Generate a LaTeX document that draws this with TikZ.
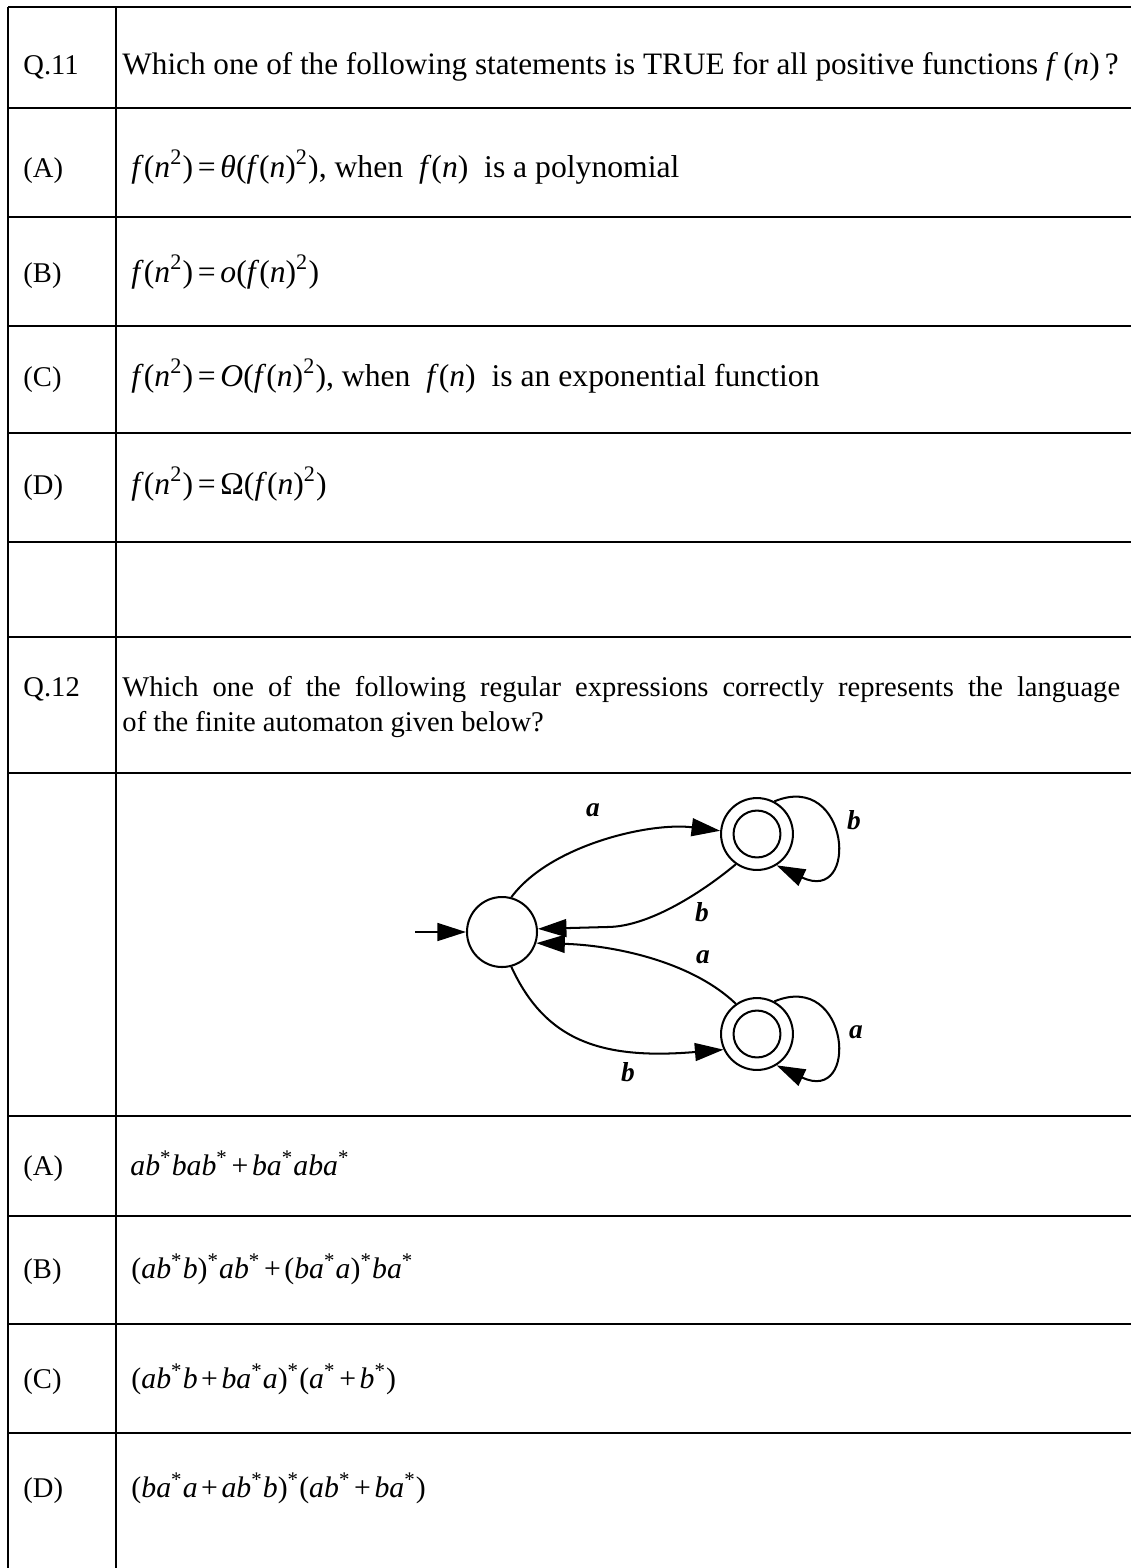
\documentclass[tikz,border=0pt]{standalone}
\usepackage{fontspec}
\setmainfont{Liberation Serif}
\usetikzlibrary{arrows.meta}

\newcommand{\vi}[1]{\textit{#1}}
\newcommand{\ks}{\textsuperscript{*}}
\newcommand{\sq}{\textsuperscript{2}}
\newcommand{\eqs}{\hspace{0.15em}=\hspace{0.15em}}
\newcommand{\pls}{\hspace{0.12em}+\hspace{0.12em}}

\begin{document}
\begin{tikzpicture}[x=0.42pt,y=-0.42pt]
\tikzstyle{every node}=[font=\fontsize{12}{14.4}\selectfont, inner sep=0pt]
\tikzstyle{heavy}=[line width=0.85pt]
\tikzstyle{light}=[line width=0.45pt]
\tikzstyle{lab}=[anchor=base west]
\tikzstyle{ask}=[lab, font=\fontsize{13.1}{15.7}\selectfont]
\tikzstyle{optA}=[lab, font=\fontsize{13.3}{16}\selectfont]
\tikzstyle{optB}=[lab, font=\fontsize{12.5}{15}\selectfont]
\tikzstyle{stt}=[draw, circle, line width=0.85pt, minimum size=29.4pt]
\tikzstyle{acc}=[stt, minimum size=30.2pt]
\tikzstyle{core}=[draw, circle, line width=0.85pt, minimum size=19.7pt]
\tikzstyle{edge}=[line width=0.85pt, -{Triangle[length=12pt,width=7.5pt]}]
\tikzstyle{sym}=[font=\fontsize{11.5}{13}\selectfont\bfseries\itshape]
	\useasboundingbox (0,0) rectangle (1131,1568);
	\fill[white] (0,0) rectangle (1131,1568);
	\draw[light] (8,7) -- (8,1568);
	\draw[light] (116,7) -- (116,1568);
	\draw[heavy] (8,1433) -- (8,1568);
	\draw[heavy] (116,1433) -- (116,1568);
	\foreach \y in {7,108,217,433,542,637,773,1116,1216,1324}
		\draw[heavy] (8,\y) -- (1131,\y);
	\foreach \y in {326,1433}
		\draw[light] (8,\y) -- (1131,\y);
	\node[lab] (q11) at (23,74) {Q.11};
	\node[ask] (q11txt) at (122,74) {Which one of the following statements is TRUE for all positive functions \vi{f}\,(\vi{n})\,?};
	\node[lab] (q11a) at (23,177) {(A)};
	\node[optA] (q11atxt) at (131,177) {\vi{f}(\vi{n}\sq)\eqs\vi{θ}(\vi{f}(\vi{n})\sq), when \ \vi{f}(\vi{n}) \ is a polynomial};
	\node[lab] (q11b) at (23,282) {(B)};
	\node[optA] (q11btxt) at (131,282) {\vi{f}(\vi{n}\sq)\eqs\vi{o}(\vi{f}(\vi{n})\sq)};
	\node[lab] (q11c) at (23,386) {(C)};
	\node[optA] (q11ctxt) at (131,386) {\vi{f}(\vi{n}\sq)\eqs\vi{O}(\vi{f}(\vi{n})\sq), when \ \vi{f}(\vi{n}) \ is an exponential function};
	\node[lab] (q11d) at (23,494) {(D)};
	\node[optA] (q11dtxt) at (131,494) {\vi{f}(\vi{n}\sq)\eqs Ω(\vi{f}(\vi{n})\sq)};
	\node[lab] (q12) at (23,696) {Q.12};
	\node[lab] (q12txt) at (122,696) {\makebox[419pt][s]{Which one of the following regular expressions correctly represents the language}};
	\node[lab] (q12txtb) at (122,731) {of the finite automaton given below?};
	\coordinate (init) at (415,932);
	\node[stt] (s) at (502,932) {};
	\node[acc] (u) at (757,834) {};
	\node[core] (ui) at (u) {};
	\node[acc] (l) at (757,1034) {};
	\node[core] (li) at (l) {};
	\draw[edge] (init) -- (s);
	\draw[edge] (s.75) .. controls (550,845) and (650,822) .. (u.175);
	\draw[edge] (u.235) .. controls (705,890) and (650,927) .. (607,927) -- (s.5);
	\draw[edge] (l.125) .. controls (690,960) and (610,945) .. (s.-18);
	\draw[edge] (s.-75) .. controls (545,1040) and (600,1060) .. (l.205);
	\draw[edge] (u.62) .. controls (850,770) and (860,905) .. (u.-58);
	\draw[edge] (l.62) .. controls (850,970) and (860,1105) .. (l.-58);
	\node[sym] (ua) at (593,810) {a};
	\node[sym] (ub) at (854,820) {b};
	\node[sym] (sb) at (702,912) {b};
	\node[sym] (sa) at (703,957) {a};
	\node[sym] (la) at (856,1032) {a};
	\node[sym] (lb) at (628,1072) {b};
	\node[lab] (q12a) at (23,1175) {(A)};
	\node[optB] (q12atxt) at (130,1175) {\vi{ab}\ks\vi{bab}\ks\pls\vi{ba}\ks\vi{aba}\ks};
	\node[lab] (q12b) at (23,1278) {(B)};
	\node[optB] (q12btxt) at (131,1278) {(\vi{ab}\ks\vi{b})\ks\vi{ab}\ks\pls(\vi{ba}\ks\vi{a})\ks\vi{ba}\ks};
	\node[lab] (q12c) at (23,1388) {(C)};
	\node[optB] (q12ctxt) at (131,1388) {(\vi{ab}\ks\vi{b}\pls\vi{ba}\ks\vi{a})\ks(\vi{a}\ks\pls\vi{b}\ks)};
	\node[lab] (q12d) at (23,1497) {(D)};
	\node[optB] (q12dtxt) at (131,1497) {(\vi{ba}\ks\vi{a}\pls\vi{ab}\ks\vi{b})\ks(\vi{ab}\ks\pls\vi{ba}\ks)};
\end{tikzpicture}
\end{document}
